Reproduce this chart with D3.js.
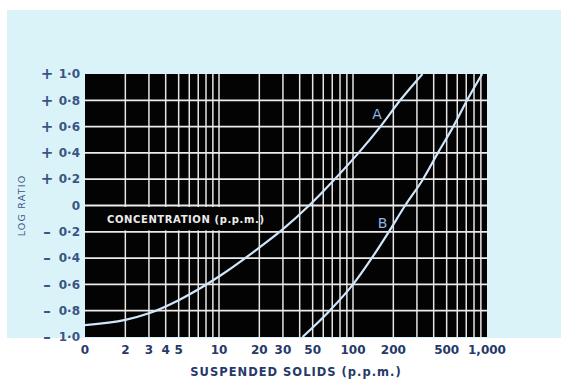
<!DOCTYPE html>
<html lang="en">
<head>
<meta charset="UTF-8">
<title>Log ratio vs suspended solids</title>
<script src="https://d3js.org/d3.v7.min.js"></script>
<style>
  body { margin: 0; background: #fff; }
  svg { display: block; font-family: "DejaVu Sans", sans-serif; }
</style>
</head>
<body>
<div id="chart"></div>
<script>
// curve A and B (x in p.p.m., y = log ratio)
var curveAx = [1, 2, 3, 5, 10, 20, 30, 47, 73, 110, 160, 225, 330];
var curveAy = [-0.91, -0.87, -0.82, -0.72, -0.54, -0.32, -0.18, 0, 0.2, 0.4, 0.6, 0.8, 1.0];
var curveBx = [42, 67, 100, 138, 185, 245, 333, 430, 560, 710, 920];
var curveBy = [-1.0, -0.8, -0.6, -0.4, -0.2, 0, 0.2, 0.4, 0.6, 0.8, 1.0];

var yTicks = [1.0, 0.8, 0.6, 0.4, 0.2, 0, -0.2, -0.4, -0.6, -0.8, -1.0];
var yTickLabels = ["1\u00b70", "0\u00b78", "0\u00b76", "0\u00b74", "0\u00b72", "0", "0\u00b72", "0\u00b74", "0\u00b76", "0\u00b78", "1\u00b70"];
var xTicks = [1, 2, 3, 4, 5, 10, 20, 30, 50, 100, 200, 500, 1000];
var xTickLabels = ["0", "2", "3", "4", "5", "10", "20", "30", "50", "100", "200", "500", "1,000"];

var W = 561, H = 379;
var margin = {top: 74, right: 74, bottom: 42, left: 85};
var width = W - margin.left - margin.right,
    height = H - margin.top - margin.bottom;

var svg = d3.select("#chart").append("svg")
    .attr("width", W)
    .attr("height", H);

// pale blue card behind the chart
svg.append("rect")
    .attr("x", 7).attr("y", 10)
    .attr("width", W - 7).attr("height", 328)
    .attr("fill", "#daf3f9");

var g = svg.append("g")
    .attr("transform", "translate(" + margin.left + "," + margin.top + ")");

var x = d3.scaleLog().domain([1, 1000]).range([0, width]);
var y = d3.scaleLinear().domain([-1, 1]).range([height, 0]);

g.append("rect")
    .attr("width", width).attr("height", height)
    .attr("fill", "#030303");

// log grid: every 1..9 in each decade
var gridX = [];
[1, 10, 100].forEach(function(dec) {
    for (var k = 1; k <= 9; k++) gridX.push(dec * k);
});

g.selectAll(".vgrid")
    .data(gridX.filter(function(d) { return d > 1; }))
    .enter().append("line")
    .attr("x1", function(d) { return x(d); })
    .attr("x2", function(d) { return x(d); })
    .attr("y1", 0).attr("y2", height)
    .attr("stroke", "#e6e6e6")
    .attr("stroke-width", 1.5);

g.selectAll(".hgrid")
    .data(yTicks.filter(function(d) { return Math.abs(d) < 1; }))
    .enter().append("line")
    .attr("x1", 0).attr("x2", width)
    .attr("y1", function(d) { return y(d); })
    .attr("y2", function(d) { return y(d); })
    .attr("stroke", "#ebebeb")
    .attr("stroke-width", function(d) { return d === 0 ? 2.2 : 1.8; });

// black band behind the "CONCENTRATION" label
g.append("rect")
    .attr("x", 1).attr("y", y(0) + 1.5)
    .attr("width", x(19) - 2).attr("height", y(-0.2) - y(0) - 3)
    .attr("fill", "#030303");

g.append("text")
    .attr("x", 22).attr("y", y(-0.1) + 4)
    .attr("fill", "#ececec")
    .style("font-size", "10px")
    .style("font-weight", "bold")
    .style("letter-spacing", "0.6px")
    .text("CONCENTRATION (p.p.m.)");

// curves
g.append("clipPath").attr("id", "clip")
    .append("rect").attr("width", width).attr("height", height);

var line = d3.line()
    .x(function(d) { return x(d[0]); })
    .y(function(d) { return y(d[1]); })
    .curve(d3.curveMonotoneX);

var curves = [
    {name: "A", pts: d3.zip(curveAx, curveAy)},
    {name: "B", pts: d3.zip(curveBx, curveBy)}
];

g.selectAll(".curve")
    .data(curves)
    .enter().append("path")
    .attr("clip-path", "url(#clip)")
    .attr("d", function(d) { return line(d.pts); })
    .attr("fill", "none")
    .attr("stroke", "#cfe6fb")
    .attr("stroke-width", 2.2);

g.append("text")
    .attr("x", x(151)).attr("y", y(0.66))
    .attr("text-anchor", "middle")
    .attr("fill", "#8fb4ec")
    .style("font-size", "14px")
    .text("A");
g.append("text")
    .attr("x", x(166)).attr("y", y(-0.17))
    .attr("text-anchor", "middle")
    .attr("fill", "#8fb4ec")
    .style("font-size", "14px")
    .text("B");

// y labels with sign column
var yl = g.selectAll(".ylab").data(yTicks).enter().append("g")
    .attr("transform", function(d) { return "translate(0," + y(d) + ")"; });
yl.append("text")
    .attr("x", -5).attr("dy", "0.35em")
    .attr("text-anchor", "end")
    .attr("fill", "#3b5483")
    .style("font-size", "12px")
    .style("font-weight", "600")
    .text(function(d, i) { return yTickLabels[i]; });
yl.append("text")
    .attr("x", -38).attr("dy", "0.35em")
    .attr("text-anchor", "middle")
    .attr("fill", "#3b5483")
    .style("font-size", "15px")
    .style("font-weight", "bold")
    .text(function(d) { return d > 0 ? "+" : (d < 0 ? "\u2013" : ""); });

svg.append("text")
    .attr("transform", "translate(25," + (margin.top + y(0)) + ") rotate(-90)")
    .attr("text-anchor", "middle")
    .attr("fill", "#3b5483")
    .style("font-size", "9.5px")
    .style("letter-spacing", "1.2px")
    .text("LOG RATIO");

// x labels
g.selectAll(".xlab").data(xTicks).enter().append("text")
    .attr("x", function(d) { return x(d); })
    .attr("y", height + 17)
    .attr("text-anchor", "middle")
    .attr("fill", "#26396a")
    .style("font-size", "12px")
    .style("font-weight", "600")
    .text(function(d, i) { return xTickLabels[i]; });

svg.append("text")
    .attr("x", 296).attr("y", 376)
    .attr("text-anchor", "middle")
    .attr("fill", "#26396a")
    .style("font-size", "11.5px")
    .style("font-weight", "600")
    .style("letter-spacing", "1px")
    .text("SUSPENDED SOLIDS (p.p.m.)");
</script>
</body>
</html>
